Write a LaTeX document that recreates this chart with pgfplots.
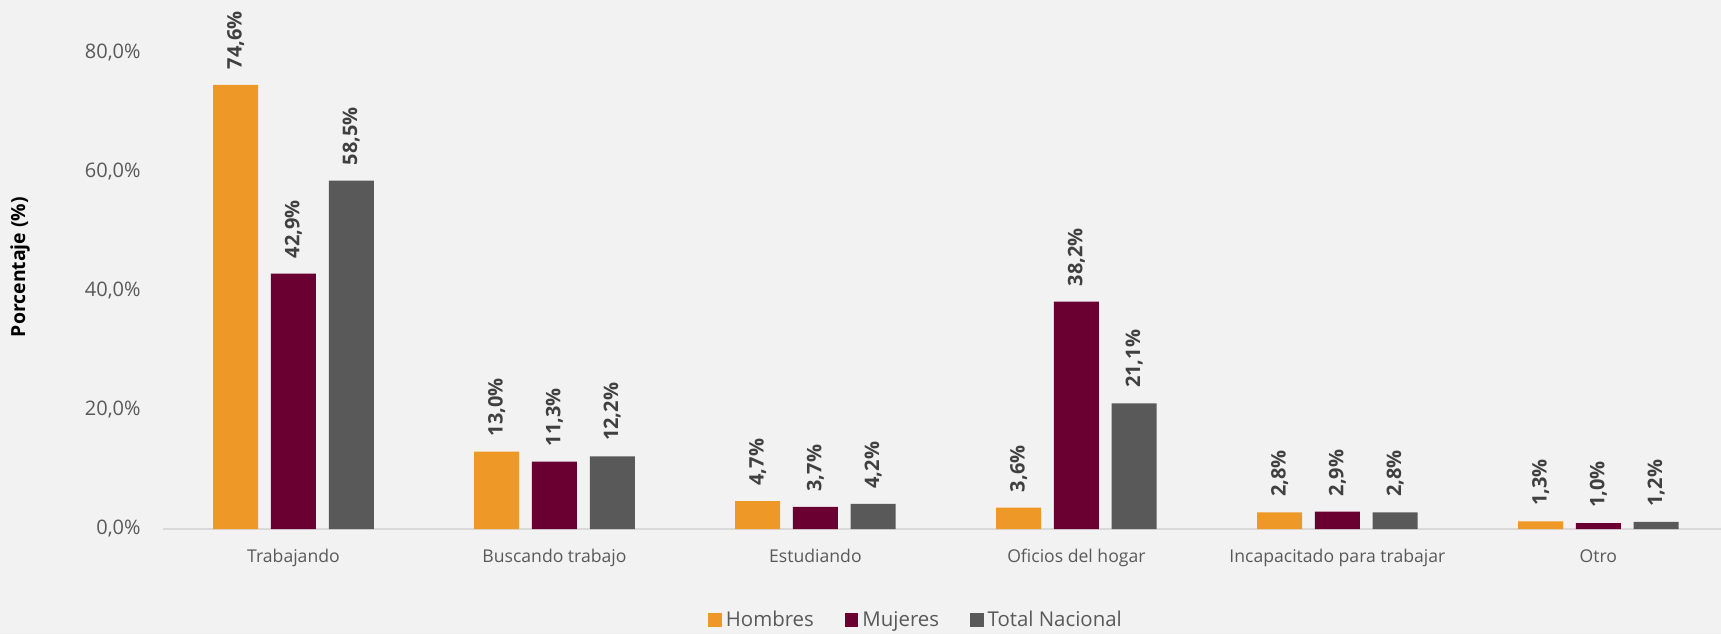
\documentclass[border=0pt]{standalone}
\usepackage{pgfplots}
\pgfplotsset{compat=1.18}
\usepackage{fontspec}
\setmainfont{Open Sans}

\definecolor{bg}{HTML}{F2F2F2}
\definecolor{hombres}{HTML}{EE9828}
\definecolor{mujeres}{HTML}{6A0032}
\definecolor{total}{HTML}{595959}
\definecolor{tickgray}{HTML}{595959}
\definecolor{labelgray}{HTML}{404040}
\definecolor{axisgray}{HTML}{D9D9D9}

\begin{document}
\begin{tikzpicture}
\path[use as bounding box, fill=bg] (-81.5pt,-52.5pt) rectangle (779pt,264.5pt);
\begin{axis}[
    scale only axis,
    width=779pt,
    height=262pt,
    ybar=6.4pt,
    bar width=22.5pt,
    xmin=-0.5, xmax=5.47,
    ymin=0, ymax=88,
    xtick=data,
    xticklabels={Trabajando, Buscando trabajo, Estudiando, Oficios del hogar, Incapacitado para trabajar, Otro},
    ytick={0,20,40,60,80},
    /pgf/number format/assume math mode=true,
    yticklabel={\pgfmathprintnumber[fixed,fixed zerofill,precision=1,use comma]{\tick}\%},
    axis x line=bottom,
    axis y line=left,
    x axis line style={draw=axisgray, line width=1pt, -},
    y axis line style={draw=none},
    major tick length=0pt,
    xticklabel style={font=\fontsize{8.8}{10}\selectfont, text=tickgray, anchor=base, yshift=-16.5pt},
    yticklabel style={font=\fontsize{10}{12}\selectfont, text=tickgray, anchor=east, inner sep=0pt, xshift=-11pt},
    ylabel={Porcentaje (\%)},
    every axis y label/.style={at={(rel axis cs:0,0.5)}, xshift=-71.5pt, rotate=90, anchor=center, font=\bfseries\fontsize{9.7}{12}\selectfont, text=black},
    nodes near coords={\pgfmathprintnumber[fixed,fixed zerofill,precision=1,use comma]{\pgfplotspointmeta}\%},
    every node near coord/.append style={rotate=90, anchor=west, inner xsep=7.5pt, inner ysep=0pt, font=\bfseries\fontsize{10}{12}\selectfont, text=labelgray},
    legend columns=3,
    legend style={at={(0.484,-0.1737)}, anchor=center, draw=none, fill=none,
        font=\fontsize{10.2}{12}\selectfont, text=tickgray,
        /tikz/every even column/.append style={column sep=13.5pt}},
    legend image code/.code={\fill[#1] (0pt,-3.4pt) rectangle (6.8pt,3.4pt);},
]
\addplot[fill=hombres, draw=none] coordinates {
    (0,74.6) (1,13.0) (2,4.7) (3,3.6) (4,2.8) (5,1.3)
};
\addplot[fill=mujeres, draw=none] coordinates {
    (0,42.9) (1,11.3) (2,3.7) (3,38.2) (4,2.9) (5,1.0)
};
\addplot[fill=total, draw=none] coordinates {
    (0,58.5) (1,12.2) (2,4.2) (3,21.1) (4,2.8) (5,1.2)
};
\legend{Hombres, Mujeres, Total Nacional}
\end{axis}
\end{tikzpicture}
\end{document}
